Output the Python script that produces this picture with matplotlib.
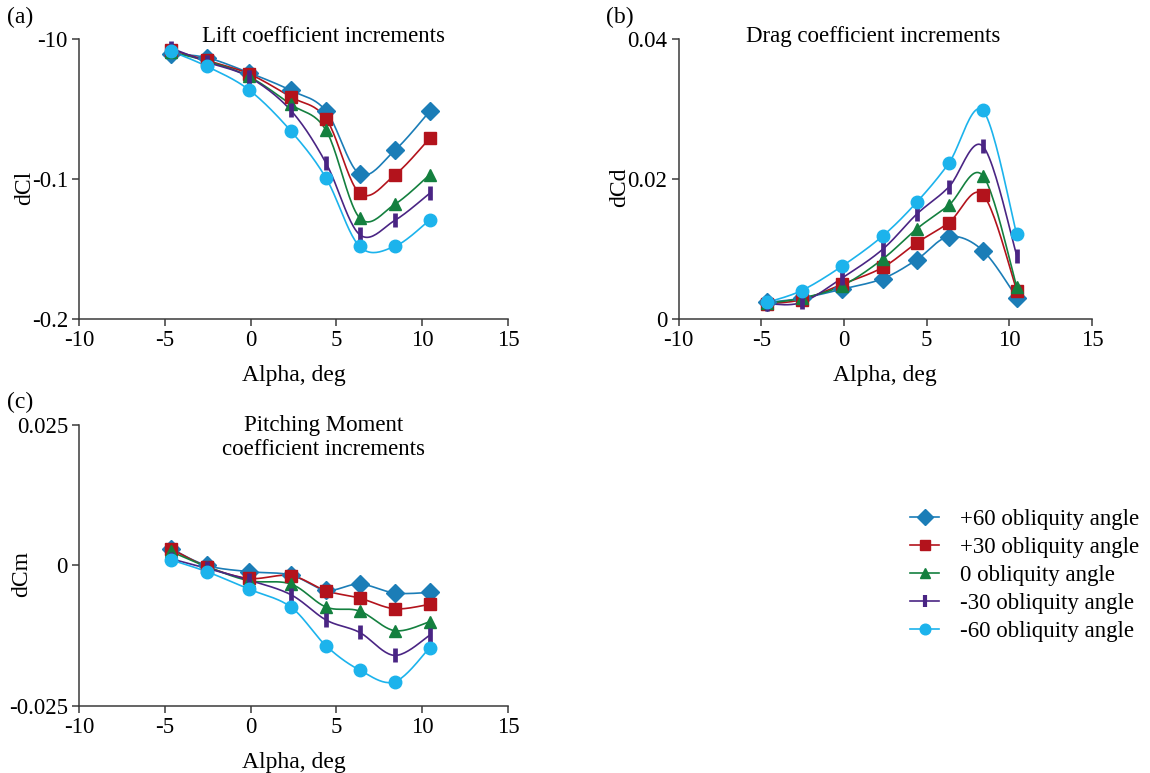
import numpy as np
import matplotlib
matplotlib.use("Agg")
from matplotlib import pyplot as plt
from matplotlib.lines import Line2D

plt.rcParams['font.family'] = ['Liberation Serif', 'DejaVu Serif']
plt.rcParams['font.size'] = 16

# angle of attack, deg
alpha = [-4.65, -2.55, -0.1, 2.35, 4.4, 6.35, 8.4, 10.45]

series_names = ["+60 obliquity angle", "+30 obliquity angle", "0 obliquity angle",
                "-30 obliquity angle", "-60 obliquity angle"]

# lift coefficient increments
dcl_p60 = [-0.0105, -0.0133, -0.0240, -0.0367, -0.0514, -0.0962, -0.0795, -0.0514]
dcl_p30 = [-0.0076, -0.0152, -0.0248, -0.0414, -0.0569, -0.1100, -0.0971, -0.0707]
dcl_0 = [-0.0093, -0.0157, -0.0267, -0.0467, -0.0652, -0.1276, -0.1180, -0.0967]
dcl_m30 = [-0.0064, -0.0164, -0.0271, -0.0510, -0.0886, -0.1395, -0.1295, -0.1100]
dcl_m60 = [-0.0086, -0.0195, -0.0362, -0.0657, -0.0993, -0.1480, -0.1480, -0.1290]

# drag coefficient increments
dcd_p60 = [0.0024, 0.0030, 0.0043, 0.0058, 0.0085, 0.0118, 0.0098, 0.0031]
dcd_p30 = [0.0022, 0.0028, 0.0050, 0.0074, 0.0109, 0.0138, 0.0178, 0.0041]
dcd_0 = [0.0023, 0.0030, 0.0048, 0.0086, 0.0129, 0.0163, 0.0205, 0.0046]
dcd_m30 = [0.0022, 0.0024, 0.0059, 0.0100, 0.0150, 0.0189, 0.0247, 0.0091]
dcd_m60 = [0.0024, 0.0041, 0.0076, 0.0119, 0.0167, 0.0223, 0.0298, 0.0121]

# pitching moment coefficient increments
dcm_p60 = [0.0030, 0.0000, -0.0011, -0.0017, -0.0044, -0.0033, -0.0049, -0.0048]
dcm_p30 = [0.0030, -0.0002, -0.0023, -0.0018, -0.0045, -0.0058, -0.0077, -0.0069]
dcm_0 = [0.0025, -0.0002, -0.0027, -0.0033, -0.0074, -0.0081, -0.0116, -0.0100]
dcm_m30 = [0.0012, -0.0005, -0.0026, -0.0052, -0.0097, -0.0119, -0.0160, -0.0124]
dcm_m60 = [0.0010, -0.0011, -0.0042, -0.0074, -0.0143, -0.0186, -0.0207, -0.0146]

colors = ["#1b7db7", "#b3131c", "#14803f", "#4a2584", "#1cb3ec"]
markers = ["D", "s", "^", "|", "o"]
msizes = [9.5, 9, 8.5, 10.5, 9]


def smooth(x, y, n=24):
    # Catmull-Rom spline through the points (same look as spreadsheet smoothed lines)
    p = np.column_stack([x, y]).astype(float)
    p = np.vstack([p[0], p, p[-1]])
    t = np.linspace(0, 1, n)[:, None]
    out = []
    for i in range(1, len(p) - 2):
        p0, p1, p2, p3 = p[i - 1], p[i], p[i + 1], p[i + 2]
        seg = 0.5 * ((2 * p1) + (-p0 + p2) * t + (2 * p0 - 5 * p1 + 4 * p2 - p3) * t ** 2
                     + (-p0 + 3 * p1 - 3 * p2 + p3) * t ** 3)
        out.append(seg if i == 1 else seg[1:])
    out = np.vstack(out)
    return out[:, 0], out[:, 1]


def draw_panel(ax, data, ylim, yticks, yticklabels, ylabel, ylabel_x, title, title_x, title_y):
    for vals, c, m, ms in zip(data, colors, markers, msizes):
        sx, sy = smooth(alpha, vals)
        ax.plot(sx, sy, color=c, lw=1.2, zorder=2)
        if m == "|":
            ax.plot(alpha, vals, ls="none", marker=m, color=c, ms=ms, mew=3.4, zorder=3)
        else:
            ax.plot(alpha, vals, ls="none", marker=m, color=c, mec=c, ms=ms, zorder=3)
    ax.set_xlim(-10, 15)
    ax.set_ylim(*ylim)
    ax.set_xticks([-10, -5, 0, 5, 10, 15])
    ax.set_xticklabels(["-10", "-5", "0", "5", "10", "15"])
    ax.set_yticks(yticks)
    ax.set_yticklabels(yticklabels)
    for s in ["top", "right"]:
        ax.spines[s].set_visible(False)
    for s in ["left", "bottom"]:
        ax.spines[s].set_color("#3a3a3a")
        ax.spines[s].set_linewidth(1.1)
    ax.tick_params(direction="out", length=5, width=1.1, color="#3a3a3a", labelsize=16.5, pad=3)
    ax.set_xlabel("Alpha, deg", fontsize=17, labelpad=10)
    ax.set_ylabel(ylabel, fontsize=17)
    ax.yaxis.set_label_coords(ylabel_x, 0.47)
    ax.text(title_x, title_y, title, transform=ax.transAxes, ha="center", va="top",
            fontsize=16.5, linespacing=1.15)


fig = plt.figure(figsize=(11.5, 7.73), dpi=100)

ax_a = fig.add_axes([0.0687, 0.587, 0.373, 0.3625])
ax_b = fig.add_axes([0.590, 0.587, 0.3596, 0.3625])
ax_c = fig.add_axes([0.0687, 0.0867, 0.373, 0.3635])

draw_panel(ax_a, [dcl_p60, dcl_p30, dcl_0, dcl_m30, dcl_m60], (-0.2, 0), [0, -0.1, -0.2],
           ["-10", "-0.1", "-0.2"], "dCl", -0.103, "Lift coefficient increments", 0.57, 1.045)
draw_panel(ax_b, [dcd_p60, dcd_p30, dcd_0, dcd_m30, dcd_m60], (0, 0.04), [0, 0.02, 0.04],
           ["0", "0.02", "0.04"], "dCd", -0.118, "Drag coefficient increments", 0.47, 1.045)
draw_panel(ax_c, [dcm_p60, dcm_p30, dcm_0, dcm_m30, dcm_m60], (-0.025, 0.025), [0.025, 0, -0.025],
           ["0.025", "0", "-0.025"], "dCm", -0.110, "Pitching Moment\ncoefficient increments", 0.57, 1.035)

fig.text(0.006, 0.978, "(a)", fontsize=17, va="center")
fig.text(0.527, 0.978, "(b)", fontsize=17, va="center")
fig.text(0.006, 0.480, "(c)", fontsize=17, va="center")

handles = []
for name, c, m, ms in zip(series_names, colors, markers, msizes):
    if m == "|":
        handles.append(Line2D([], [], color=c, lw=1.2, marker=m, ms=ms * 0.8, mew=3, label=name))
    else:
        handles.append(Line2D([], [], color=c, lw=1.2, marker=m, mec=c, ms=ms * 0.85, label=name))
fig.legend(handles=handles, loc="upper left", bbox_to_anchor=(0.783, 0.353), frameon=False,
           fontsize=16.5, handlelength=1.3, handletextpad=0.9, labelspacing=0.3, borderaxespad=0)

fig.savefig("out.png", dpi=100)
